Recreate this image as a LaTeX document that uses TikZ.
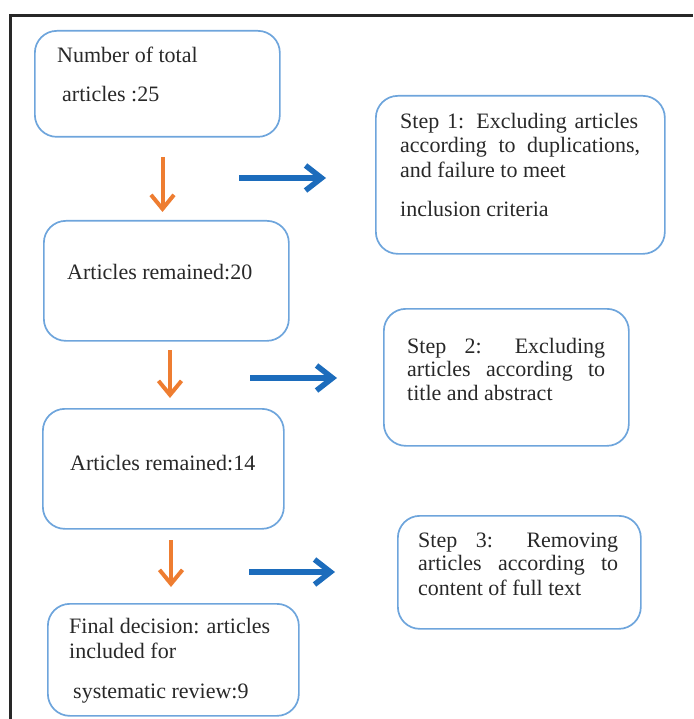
\documentclass[tikz,border=0pt]{standalone}
\usepackage{fontspec}
\setmainfont{Liberation Serif}
\usetikzlibrary{arrows.meta}
\definecolor{boxblue}{RGB}{110,165,220}
\definecolor{arrblue}{RGB}{28,108,188}
\definecolor{arrorange}{RGB}{238,125,49}
\definecolor{txtgray}{RGB}{40,40,40}
\definecolor{framegray}{RGB}{40,40,40}
\tikzset{
  box/.style={draw=boxblue, line width=1.7pt, rounded corners=22pt, anchor=north west, inner sep=0pt},
  txt/.style={anchor=base west, inner sep=0pt, text=txtgray, font=\fontsize{22}{24}\selectfont},
  oarrow/.style={draw=arrorange, line width=4pt, -{Straight Barb[length=14pt,width=23pt]}},
  barrow/.style={draw=arrblue, line width=5.5pt, -{Straight Barb[length=16pt,width=25pt]}},
  frameline/.style={draw=framegray, line width=2.6pt}
}
\begin{document}
\begin{tikzpicture}[x=1pt,y=-1pt]
\useasboundingbox (0,0) rectangle (693,719);
% frame
\coordinate (fr1) at (693,15.3);
\coordinate (fr2) at (10.7,15.3);
\coordinate (fr3) at (10.7,719);
\draw[frameline] (fr1) -- (fr2) -- (fr3);
% left column boxes
\node[box, minimum width=245pt, minimum height=106pt] (ba) at (34,30) {};
\node[txt] (ta1) at (57,63) {Number of total};
\node[txt] (ta2) at (62,102) {articles :25};
\node[box, minimum width=245pt, minimum height=120pt] (bb) at (43,220) {};
\node[txt] (tb1) at (67,279) {Articles remained:20};
\node[box, minimum width=241pt, minimum height=120pt] (bc) at (42,408) {};
\node[txt] (tc1) at (70,470) {Articles remained:14};
\node[box, minimum width=251pt, minimum height=112pt] (bd) at (47,603) {};
\node[txt] (td1) at (69,633) {Final decision: articles};
\node[txt] (td2) at (69,658) {included for};
\node[txt] (td3) at (73,698) {systematic review:9};
% right column boxes
\node[box, minimum width=289pt, minimum height=158pt] (be) at (375,95) {};
\node[txt] (te1) at (400,129) {\makebox[238pt][s]{Step 1: Excluding articles}};
\node[txt] (te2) at (400,153) {\makebox[240pt][s]{according to duplications,}};
\node[txt] (te3) at (400,178) {and failure to meet};
\node[txt] (te4) at (400,217) {inclusion criteria};
\node[box, minimum width=245pt, minimum height=137pt] (bf) at (383,308) {};
\node[txt] (tf1) at (407,353) {\makebox[198pt][s]{Step 2: Excluding}};
\node[txt] (tf2) at (407,376) {\makebox[198pt][s]{articles according to}};
\node[txt] (tf3) at (407,400) {title and abstract};
\node[box, minimum width=243pt, minimum height=113pt] (bg) at (397,515) {};
\node[txt] (tg1) at (418,547) {\makebox[200pt][s]{Step 3: Removing}};
\node[txt] (tg2) at (418,570) {\makebox[200pt][s]{articles according to}};
\node[txt] (tg3) at (418,595) {content of full text};
% orange arrows
\coordinate (o1s) at (162.5,157); \coordinate (o1e) at (162.5,212);
\coordinate (o2s) at (170,350); \coordinate (o2e) at (170,398);
\coordinate (o3s) at (171,540); \coordinate (o3e) at (171,587);
\draw[oarrow] (o1s) -- (o1e);
\draw[oarrow] (o2s) -- (o2e);
\draw[oarrow] (o3s) -- (o3e);
% blue arrows
\coordinate (b1s) at (239,178); \coordinate (b1e) at (326,178);
\coordinate (b2s) at (250,378); \coordinate (b2e) at (337,378);
\coordinate (b3s) at (249,572); \coordinate (b3e) at (335,572);
\draw[barrow] (b1s) -- (b1e);
\draw[barrow] (b2s) -- (b2e);
\draw[barrow] (b3s) -- (b3e);
\end{tikzpicture}
\end{document}
